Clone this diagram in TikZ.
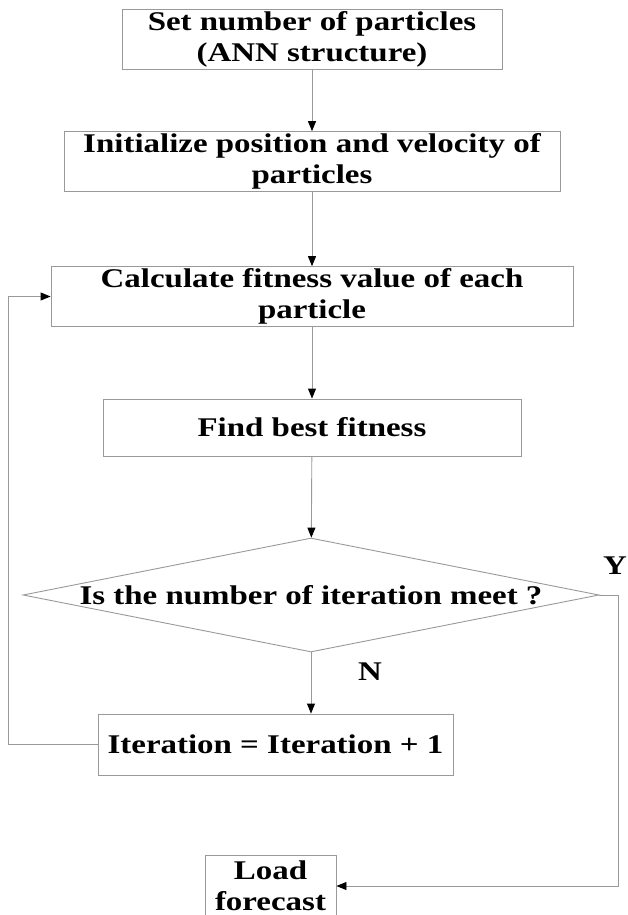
\documentclass[tikz,border=0pt]{standalone}
\usepackage{fontspec}
\setmainfont{Liberation Serif}[FakeStretch=1.22]
\usetikzlibrary{arrows.meta,shapes.geometric}
\begin{document}
\begin{tikzpicture}[x=1pt,y=-1pt,>={Triangle[length=10pt,width=8pt,color=black]},
		font=\fontsize{27}{31}\selectfont\bfseries, line join=miter,
		line/.style={draw=black!40, line width=0.9pt},
		box/.style={line, rectangle, align=center, inner sep=2pt, minimum height=57pt},
		decide/.style={line, diamond, inner sep=0pt, aspect=5.05, minimum width=576pt, minimum height=114pt}]
			\useasboundingbox (0,0) rectangle (627,915);
			\node[box, minimum width=380pt] (set) at (312,39.5) {Set number of particles\\(ANN structure)};
			\node[box, minimum width=496pt] (init) at (312,161.5) {Initialize position and velocity of\\particles};
			\node[box, minimum width=522pt] (calc) at (312,296.5) {Calculate fitness value of each\\particle};
			\node[box, minimum width=418pt] (best) at (312,427.5) {Find best fitness};
			\node[decide] (meet) at (311,595) {Is the number of iteration meet ?};
			\node[box, minimum width=355pt, minimum height=61pt] (iter) at (275.5,744.5) {Iteration = Iteration + 1};
			\node[box, minimum width=131pt, minimum height=62pt, inner sep=0pt] (load) at (270.5,886) {Load\\forecast};
			\node (yes) at (615,566) {Y};
			\node (no) at (370,672) {N};
			\draw[line,->] (set) -- (init);
			\draw[line,->] (init) -- (calc);
			\draw[line,->] (calc) -- (best);
			\draw[line,->] (best) -- (meet);
			\draw[line,->] (meet.south) -- (meet.south |- iter.north);
			\draw[line,->] (iter.west) -- ++(-89,0) |- (calc.west);
			\draw[line,->] (meet.east) -- ++(19,0) |- (load.east);
	\end{tikzpicture}
\end{document}
